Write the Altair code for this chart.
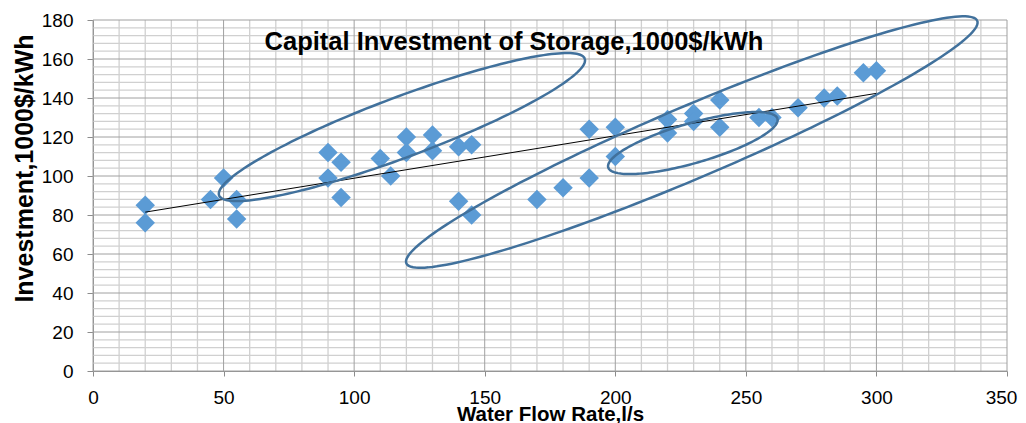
import altair as alt
import numpy as np
import pandas as pd

# ---- data ----
flow = [20, 20, 45, 50, 55, 55, 90, 90, 95, 95, 110, 114, 120, 120, 130, 130,
        140, 140, 145, 145, 170, 180, 190, 190, 200, 200, 220, 220, 230, 230,
        240, 240, 255, 260, 270, 280, 285, 295, 300]
invest = [85, 76, 88, 99, 88, 78, 112, 99, 107, 89, 109, 100, 120, 112, 121, 113,
          115, 87, 116, 80, 88, 94, 124, 99, 125, 110, 129, 122, 132, 128,
          139, 125, 130, 130, 135, 140, 141, 153, 154]

x_ticks = [0, 50, 100, 150, 200, 250, 300, 350]
y_ticks = [0, 20, 40, 60, 80, 100, 120, 140, 160, 180]
x_minor = [v for v in range(0, 351, 10) if v % 50]
y_minor = [v for v in range(0, 181, 4) if v % 20]

# annotation ellipses: centre, end of major axis (data units), minor/major ratio
ell_cx = [118.3, 229.3, 229.7]
ell_cy = [125.1, 117.4, 116.9]
ell_tx = [188.3, 338.6, 262.1]
ell_ty = [160.2, 179.6, 129.4]
ell_ratio = [0.154, 0.116, 0.227]

title_text = "Capital Investment of Storage,1000$/kWh"
x_title = "Water Flow Rate,l/s"
y_title = "Investment,1000$/kWh"

W, H = 914, 351
XMAX, YMAX = 350, 180
FONT = "Liberation Sans"

pts = pd.DataFrame({"x": flow, "y": invest})

# ellipse outlines built in screen proportions
px_x, px_y = W / XMAX, H / YMAX
rows = []
t = np.linspace(0, 2 * np.pi, 181)
for k in range(len(ell_cx)):
    ux = (ell_tx[k] - ell_cx[k]) * px_x
    uy = (ell_ty[k] - ell_cy[k]) * px_y
    vx, vy = -uy * ell_ratio[k], ux * ell_ratio[k]
    ex = ell_cx[k] + (ux * np.cos(t) + vx * np.sin(t)) / px_x
    ey = ell_cy[k] + (uy * np.cos(t) + vy * np.sin(t)) / px_y
    for i in range(len(t)):
        rows.append({"id": k, "i": i, "x": ex[i], "y": ey[i]})
ell = pd.DataFrame(rows)

xs = alt.Scale(domain=[0, XMAX], nice=False, zero=False)
ys = alt.Scale(domain=[0, YMAX], nice=False, zero=False)

X_AX = alt.Axis(values=x_ticks, grid=False, title=x_title, domainColor="#8C8C8C",
                tickColor="#8C8C8C", tickSize=5, labelFont=FONT, labelFontSize=19,
                labelColor="#000000", labelBaseline="alphabetic", labelPadding=27,
                labelFlush=False,
                labelOffset={"condition": {"test": "datum.value == 350", "value": -6},
                             "value": 0},
                titleFont=FONT, titleFontSize=20.5, titleFontWeight="bold",
                titleColor="#000000", titleBaseline="alphabetic", titleY=49)
Y_AX = alt.Axis(values=y_ticks, grid=False, title=y_title, domainColor="#8C8C8C",
                tickColor="#8C8C8C", tickSize=6, labelFont=FONT, labelFontSize=19,
                labelColor="#000000", labelPadding=14, labelFlush=False,
                titleFont=FONT, titleFontSize=25, titleFontWeight="bold",
                titleColor="#000000", titleAngle=270, titleBaseline="alphabetic",
                titleAlign="center", titleX=-61, titleY=148)

def gx(vals, color, w):
    return alt.Chart(pd.DataFrame({"v": vals})).mark_rule(color=color, strokeWidth=w).encode(
        x=alt.X("v:Q", scale=xs, axis=X_AX))

def gy(vals, color, w):
    return alt.Chart(pd.DataFrame({"v": vals})).mark_rule(color=color, strokeWidth=w).encode(
        y=alt.Y("v:Q", scale=ys, axis=Y_AX))

grid = gx(x_minor, "#D0D0D0", 1.3) + gy(y_minor, "#D0D0D0", 1.3) + \
    gx(x_ticks, "#A0A0A0", 1) + gy(y_ticks, "#A0A0A0", 1)

points = alt.Chart(pts).mark_point(shape="diamond", filled=True, size=380,
                                   color="#5B9BD5", opacity=1).encode(
    x=alt.X("x:Q", scale=xs, axis=X_AX), y=alt.Y("y:Q", scale=ys, axis=Y_AX))

trend = alt.Chart(pts).transform_regression("x", "y").mark_line(
    color="#000000", strokeWidth=1).encode(
    x=alt.X("x:Q", scale=xs, axis=X_AX), y=alt.Y("y:Q", scale=ys, axis=Y_AX))

ellipses = alt.Chart(ell).mark_line(color="#41719C", strokeWidth=2.5, clip=False).encode(
    x=alt.X("x:Q", scale=xs, axis=X_AX), y=alt.Y("y:Q", scale=ys, axis=Y_AX),
    detail="id:N", order="i:Q")

title = alt.Chart(pd.DataFrame({"t": [title_text]})).mark_text(
    font=FONT, fontSize=25.5, fontWeight="bold", color="#000000",
    align="center", baseline="alphabetic").encode(
    text="t:N", x=alt.value(421), y=alt.value(30))

chart = (grid + points + trend + ellipses + title).properties(
    width=W, height=H,
    autosize=alt.AutoSizeParams(type="none"),
    padding={"left": 85, "top": 12, "right": 11, "bottom": 52},
).configure_view(strokeWidth=0)

chart.save("out.html", embed_options={"renderer": "svg", "actions": False})
